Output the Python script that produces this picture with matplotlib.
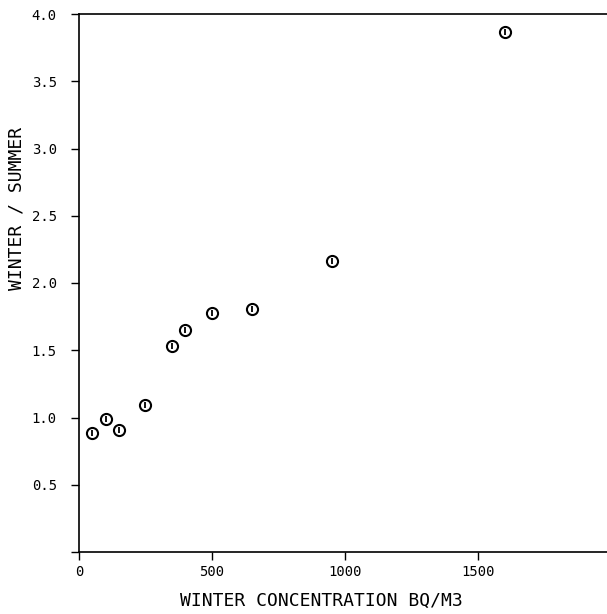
import matplotlib
matplotlib.use("Agg")
import matplotlib.pyplot as plt

# winter concentration (Bq/m3) and winter/summer ratio
winter_conc = [50, 100, 150, 250, 350, 400, 500, 650, 950, 1600]
ratio = [0.885, 0.99, 0.91, 1.095, 1.53, 1.65, 1.78, 1.81, 2.16, 3.865]

x_ticks = [0, 500, 1000, 1500]
x_tick_labels = ["0", "500", "1000", "1500"]
y_ticks = [0.0, 0.5, 1.0, 1.5, 2.0, 2.5, 3.0, 3.5, 4.0]
y_tick_labels = ["", "0.5", "1.0", "1.5", "2.0", "2.5", "3.0", "3.5", "4.0"]

plt.rcParams["font.family"] = ["DejaVu Sans Mono"]

fig = plt.figure(figsize=(6.07, 6.14), dpi=100, facecolor="white")
ax = fig.add_axes([79 / 607, 62 / 614, 528 / 607, 538 / 614])

ax.plot(winter_conc, ratio, linestyle="none", marker="o", markersize=8,
        markerfacecolor="none", markeredgecolor="black", markeredgewidth=1.5)
ax.plot(winter_conc, ratio, linestyle="none", marker="|", markersize=4,
        markeredgecolor="black", markeredgewidth=1.3)

ax.set_xlim(0, 1985)
ax.set_ylim(0, 4.0)
ax.set_xticks(x_ticks)
ax.set_xticklabels(x_tick_labels)
ax.set_yticks(y_ticks)
ax.set_yticklabels(y_tick_labels)
ax.tick_params(direction="out", length=6, width=1, labelsize=10)
ax.tick_params(axis="x", pad=3)
ax.tick_params(axis="y", pad=10)
ax.spines["right"].set_visible(False)
for s in ["left", "bottom", "top"]:
    ax.spines[s].set_linewidth(1.2)

fig.text(0.53, 0.022, "WINTER CONCENTRATION BQ/M3", ha="center", va="center",
         fontsize=13)
fig.text(0.028, 0.66, "WINTER / SUMMER", ha="center", va="center",
         rotation=90, fontsize=13)

plt.savefig("out.png", dpi=100)
